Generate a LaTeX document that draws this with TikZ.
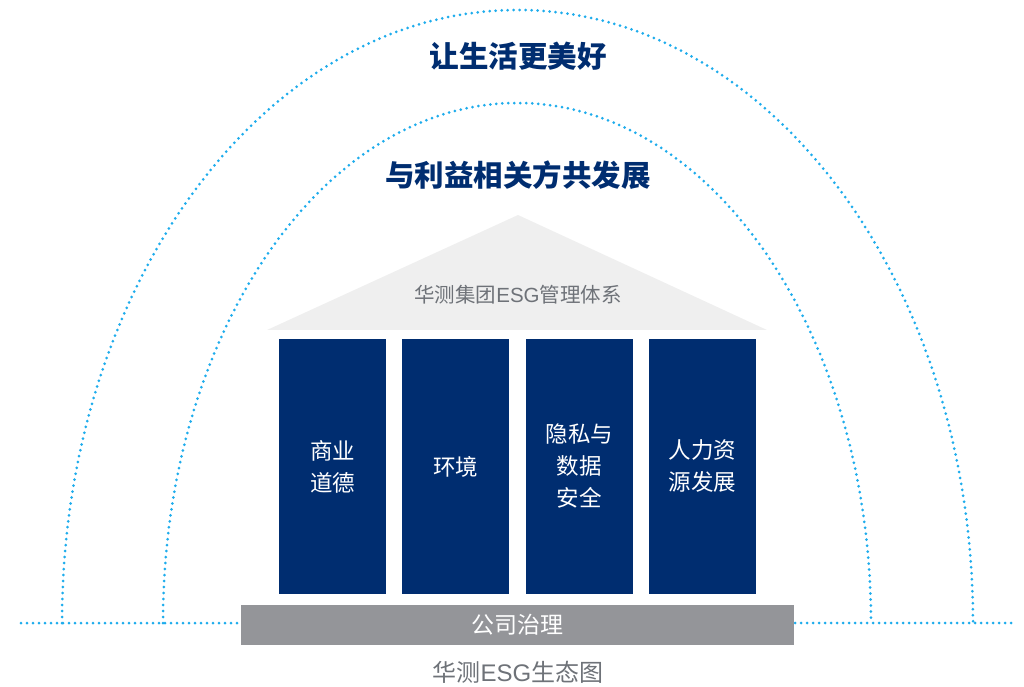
\documentclass[tikz,border=0pt]{standalone}
\usepackage{fontspec}
\setmainfont{Noto Sans CJK SC}
\newfontfamily\latinfont{Liberation Sans}
\usepackage{xcolor}
\usepackage{tikz}
\usetikzlibrary{positioning, calc}
\definecolor{esgNavy}{RGB}{0, 45, 112}
\definecolor{esgDot}{RGB}{30, 172, 236}
\definecolor{esgGray}{RGB}{148, 149, 153}
\definecolor{esgRoof}{RGB}{239, 239, 239}
\definecolor{esgText}{RGB}{110, 114, 120}
\tikzset{
    dotline/.style={
        draw=esgDot,
        line width=3pt,
        line cap=round,
        dash pattern=on 0pt off 6pt
    },
    pillar/.style={
        rectangle,
        fill=esgNavy,
        text=white,
        minimum width=107pt,
        minimum height=255pt,
        inner sep=0pt,
        align=center,
        font=\fontsize{22.5}{32}\selectfont
    },
    title/.style={
        text=esgNavy,
        font=\fontsize{29.5}{32}\selectfont\bfseries
    },
    basebar/.style={
        rectangle,
        fill=esgGray,
        text=white,
        minimum width=553pt,
        minimum height=40pt,
        inner sep=0pt,
        font=\fontsize{23}{24}\selectfont
    },
    graytext/.style={
        text=esgText,
        inner sep=0pt
    }
}
\begin{document}
\begin{tikzpicture}[x=1pt, y=1pt]
  \useasboundingbox (0,0) rectangle (1024,686);

  % Arches and ground line
  \draw[dotline] (21,63) -- (1014,63);
  \draw[dotline] (62,63) arc[start angle=180, end angle=0, x radius=455.5, y radius=613];
  \draw[dotline] (163,63) arc[start angle=180, end angle=0, x radius=354, y radius=520];

  % Titles
  \node[title] (life) at (518,630) {让生活更美好};
  \node[title] (partners) at (518,511) {与利益相关方共发展};

  % Roof
  \fill[esgRoof] (267,356) -- (518,471) -- (767,356) -- cycle;
  \node[graytext, font=\fontsize{20.5}{22}\selectfont] (system) at (518,391) {华测集团{\latinfont ESG}管理体系};

  % Pillars
  \node[pillar] (ethics) at (332.5,219.5) {商业\\道德};
  \node[pillar, right=16pt of ethics] (environment) {环境};
  \node[pillar, right=16pt of environment] (privacy) {隐私与\\数据\\安全};
  \node[pillar, right=16pt of privacy] (talent) {人力资\\源发展};

  % Foundation
  \node[basebar] (governance) at (517.5,61) {公司治理};
  \node[graytext, font=\fontsize{24}{26}\selectfont] (caption) at (518,14) {华测{\latinfont ESG}生态图};
\end{tikzpicture}
\end{document}
